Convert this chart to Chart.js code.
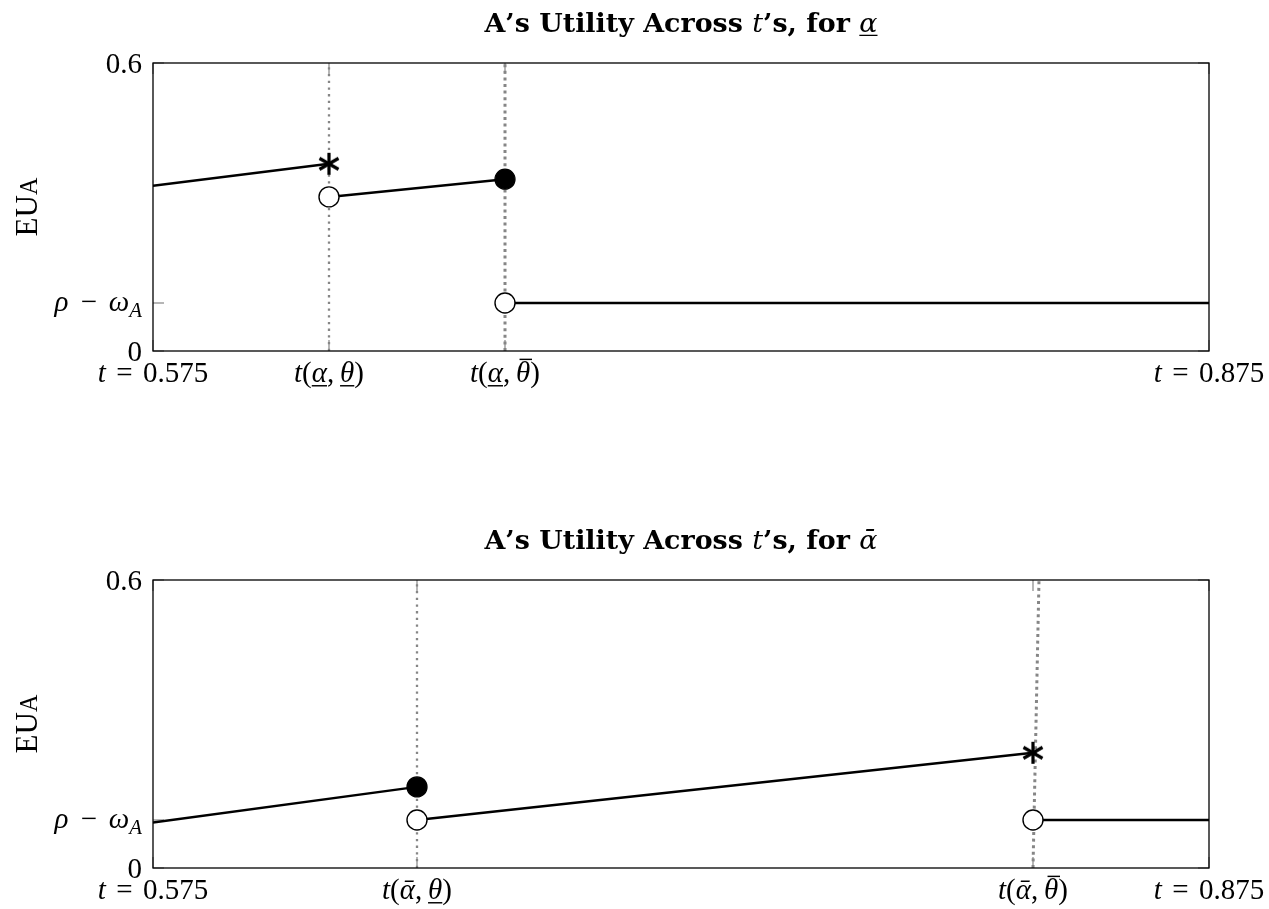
<!DOCTYPE html>
<html>
<head>
<meta charset="utf-8">
<script src="https://cdn.jsdelivr.net/npm/chart.js@4.4.1/dist/chart.umd.min.js"></script>
<style>
html,body{margin:0;padding:0;background:#fff;}
#wrap{position:relative;width:1269px;height:909px;}
canvas{position:absolute;left:0;}
</style>
</head>
<body>
<div id="wrap">
<canvas id="c1" width="1269" height="455" style="top:0"></canvas>
<canvas id="c2" width="1269" height="454" style="top:455px"></canvas>
</div>
<script>
// ---------- data ----------
const X_MIN = 0.575, X_MAX = 0.875, Y_MIN = 0, Y_MAX = 0.6;
const yTickVals = [0, 0.1, 0.6];
const yTickLabels = ['0', '$ρ~−~ω_A$', '0.6'];
const yAxisTitle = 'EU^A';

// top chart (α underline)
const topTitle = 'A’s Utility Across $t$’s, for $α̲$';
const topTickX = [0.575, 0.625, 0.675, 0.875];
const topTickLabels = ['$t$~=~0.575', '$t$($α̲$,\u2009$θ̲$)', '$t$($α̲$,\u2009$θ̄$)', '$t$~=~0.875'];
const topVLineBottomX = [0.625, 0.675];
const topVLineTopX = [0.625, 0.675];
const topLine1X = [0.575, 0.625], topLine1Y = [0.344, 0.390];
const topLine2X = [0.625, 0.675], topLine2Y = [0.321, 0.358];
const topLine3X = [0.675, 0.875], topLine3Y = [0.100, 0.100];
const topOpenX = [0.625, 0.675], topOpenY = [0.321, 0.100];
const topFilledX = [0.675], topFilledY = [0.358];
const topStarX = [0.625], topStarY = [0.390];

// bottom chart (α bar)
const botTitle = 'A’s Utility Across $t$’s, for $ᾱ$';
const botTickX = [0.575, 0.65, 0.825, 0.875];
const botTickLabels = ['$t$~=~0.575', '$t$($ᾱ$,\u2009$θ̲$)', '$t$($ᾱ$,\u2009$θ̄$)', '$t$~=~0.875'];
const botVLineBottomX = [0.65, 0.825];
const botVLineTopX = [0.65, 0.8267];
const botLine1X = [0.575, 0.65], botLine1Y = [0.095, 0.169];
const botLine2X = [0.65, 0.825], botLine2Y = [0.100, 0.240];
const botLine3X = [0.825, 0.875], botLine3Y = [0.100, 0.100];
const botOpenX = [0.65, 0.825], botOpenY = [0.100, 0.100];
const botFilledX = [0.65], botFilledY = [0.169];
const botStarX = [0.825], botStarY = [0.240];

// ---------- helpers ----------
const FONT = '"Liberation Serif", "Times New Roman", serif';
const TITLE_FONT = '"DejaVu Serif", "Liberation Serif", serif';
const GRAY = '#868686';

function zip(xs, ys) { return xs.map((x, i) => ({x: x, y: ys[i]})); }

// $..$ italic, _X subscript, ^X small capital, ~ wide space, U+0332 underline, U+0304 bar
function parseRich(s) {
  const out = []; let it = false; let sub = false; let sm = false;
  for (const c of [...s]) {
    if (c === '$') { it = !it; continue; }
    if (c === '_') { sub = true; continue; }
    if (c === '^') { sm = true; continue; }
    if (c === '\u0332') { out[out.length - 1].under = true; continue; }
    if (c === '\u0304') { out[out.length - 1].bar = true; continue; }
    out.push({c: c, it: it && c !== '~', sub: sub, sm: sm, sp: c === '~'});
    sub = false; sm = false;
  }
  return out;
}
function glyphFont(g, size, bold, fam) {
  const s = g.sub ? size * 0.72 : (g.sm ? size * 0.78 : size);
  return (g.it ? 'italic ' : '') + ((bold && !g.it) ? 'bold ' : '') + s.toFixed(1) + 'px ' + (fam || FONT);
}
function glyphW(ctx, g, size, bold, fam) {
  if (g.sp) return size * 0.36;
  ctx.font = glyphFont(g, size, bold, fam);
  return ctx.measureText(g.c).width;
}
function drawRich(ctx, str, x, y, size, align, bold, targetW, fam) {
  const glyphs = parseRich(str);
  let w = 0;
  for (const g of glyphs) w += glyphW(ctx, g, size, bold, fam);
  let sx = 1;
  if (targetW) { sx = targetW / w; }
  const tw = w * sx;
  let cx = align === 'center' ? x - tw / 2 : (align === 'right' ? x - tw : x);
  ctx.save();
  ctx.fillStyle = '#000'; ctx.strokeStyle = '#000';
  ctx.textAlign = 'left'; ctx.textBaseline = 'alphabetic';
  for (const g of glyphs) {
    const gw = glyphW(ctx, g, size, bold, fam) * sx;
    if (!g.sp) {
      ctx.font = glyphFont(g, size, bold, fam);
      const by = y + (g.sub ? size * 0.2 : 0);
      ctx.save();
      ctx.translate(cx, by);
      ctx.scale(sx, 1);
      ctx.fillText(g.c, 0, 0);
      ctx.restore();
      ctx.lineWidth = Math.max(1.2, size * 0.05);
      if (g.under) {
        ctx.beginPath(); ctx.moveTo(cx, by + size * 0.13); ctx.lineTo(cx + gw, by + size * 0.13); ctx.stroke();
      }
      if (g.bar) {
        const sh = g.it ? size * 0.08 : 0;
        ctx.beginPath(); ctx.moveTo(cx + sh + size * 0.04, by - size * 0.78); ctx.lineTo(cx + sh + gw - size * 0.02, by - size * 0.78); ctx.stroke();
      }
    }
    cx += gw;
  }
  ctx.restore();
}

// asterisk point style (six arms)
function makeAsterisk() {
  const c = document.createElement('canvas');
  c.width = 28; c.height = 28;
  const g = c.getContext('2d');
  g.strokeStyle = '#000'; g.lineWidth = 3.2; g.lineCap = 'butt';
  const r = 11;
  for (const a of [90, 30, 150]) {
    const rad = a * Math.PI / 180;
    g.beginPath();
    g.moveTo(14 - r * Math.cos(rad), 14 - r * Math.sin(rad));
    g.lineTo(14 + r * Math.cos(rad), 14 + r * Math.sin(rad));
    g.stroke();
  }
  return c;
}
const asterisk = makeAsterisk();

function framePlugin(cfg) {
  return {
    id: 'frame',
    beforeDatasetsDraw(chart) {
      const ctx = chart.ctx, a = chart.chartArea;
      const xs = chart.scales.x, ys = chart.scales.y;
      ctx.save();
      ctx.strokeStyle = GRAY; ctx.lineWidth = 1.2;
      for (const v of cfg.tickX) {
        const px = xs.getPixelForValue(v);
        ctx.beginPath(); ctx.moveTo(px, a.bottom); ctx.lineTo(px, a.bottom - 11); ctx.stroke();
        ctx.beginPath(); ctx.moveTo(px, a.top); ctx.lineTo(px, a.top + 11); ctx.stroke();
      }
      for (const v of yTickVals) {
        const py = ys.getPixelForValue(v);
        ctx.beginPath(); ctx.moveTo(a.left, py); ctx.lineTo(a.left + 11, py); ctx.stroke();
        ctx.beginPath(); ctx.moveTo(a.right, py); ctx.lineTo(a.right - 11, py); ctx.stroke();
      }
      ctx.restore();
    },
    afterDatasetsDraw(chart) {
      const ctx = chart.ctx, a = chart.chartArea;
      ctx.save();
      ctx.strokeStyle = '#000'; ctx.lineWidth = 1.3;
      ctx.strokeRect(a.left, a.top, a.right - a.left, a.bottom - a.top);
      ctx.restore();
    },
    afterDraw(chart) {
      const ctx = chart.ctx, a = chart.chartArea;
      const xs = chart.scales.x, ys = chart.scales.y;
      cfg.tickX.forEach((v, i) => {
        drawRich(ctx, cfg.tickLabels[i], xs.getPixelForValue(v), a.bottom + 31, 29, 'center', false);
      });
      yTickVals.forEach((v, i) => {
        const py = ys.getPixelForValue(v);
        drawRich(ctx, yTickLabels[i], a.left - 11, py + (i === 1 ? 8 : 10), 29, 'right', false);
      });
      ctx.save();
      ctx.translate(37, (a.top + a.bottom) / 2);
      ctx.rotate(-Math.PI / 2);
      drawRich(ctx, yAxisTitle, 0, 0, 31, 'center', false);
      ctx.restore();
      drawRich(ctx, cfg.title, (a.left + a.right) / 2, a.top - 31, 26, 'center', true, 393, TITLE_FONT);
    }
  };
}

function buildChart(id, cfg) {
  const lineDs = (xs, ys) => ({
    data: zip(xs, ys), showLine: true, borderColor: '#000', borderWidth: 2.5,
    pointRadius: 0, pointHoverRadius: 0, fill: false
  });
  const vDs = (i, w, dash) => ({
    data: [{x: cfg.vBottom[i], y: Y_MIN}, {x: cfg.vTop[i], y: Y_MAX}], showLine: true,
    borderColor: GRAY, borderWidth: w, borderDash: dash, pointRadius: 0, pointHoverRadius: 0
  });
  const datasets = [
    {data: zip(cfg.starX, cfg.starY), pointStyle: asterisk, pointRadius: 14, showLine: false},
    {data: zip(cfg.filledX, cfg.filledY), pointStyle: 'circle', pointRadius: 10,
     backgroundColor: '#000', borderColor: '#000', borderWidth: 1.3, showLine: false},
    {data: zip(cfg.openX, cfg.openY), pointStyle: 'circle', pointRadius: 10,
     backgroundColor: '#fff', borderColor: '#000', borderWidth: 1.4, showLine: false},
    lineDs(cfg.l1x, cfg.l1y),
    lineDs(cfg.l2x, cfg.l2y),
    lineDs(cfg.l3x, cfg.l3y),
    vDs(1, 3, [3, 3.6]),
    vDs(0, 2.3, [2.3, 4.4])
  ];
  return new Chart(document.getElementById(id), {
    type: 'scatter',
    data: {datasets: datasets},
    options: {
      responsive: false, animation: false,
      events: [],
      layout: {padding: {top: cfg.padTop, right: 60, left: 0, bottom: 0}},
      plugins: {legend: {display: false}, tooltip: {enabled: false}, title: {display: false}},
      scales: {
        x: {type: 'linear', min: X_MIN, max: X_MAX, grid: {display: false}, border: {display: false},
            ticks: {display: false}, afterFit: s => { s.height = cfg.xH; }},
        y: {type: 'linear', min: Y_MIN, max: Y_MAX, grid: {display: false}, border: {display: false},
            ticks: {display: false}, afterFit: s => { s.width = 153; }}
      }
    },
    plugins: [framePlugin(cfg)]
  });
}

buildChart('c1', {
  title: topTitle, tickX: topTickX, tickLabels: topTickLabels,
  vBottom: topVLineBottomX, vTop: topVLineTopX,
  l1x: topLine1X, l1y: topLine1Y, l2x: topLine2X, l2y: topLine2Y, l3x: topLine3X, l3y: topLine3Y,
  openX: topOpenX, openY: topOpenY, filledX: topFilledX, filledY: topFilledY,
  starX: topStarX, starY: topStarY, padTop: 63, xH: 104
});
buildChart('c2', {
  title: botTitle, tickX: botTickX, tickLabels: botTickLabels,
  vBottom: botVLineBottomX, vTop: botVLineTopX,
  l1x: botLine1X, l1y: botLine1Y, l2x: botLine2X, l2y: botLine2Y, l3x: botLine3X, l3y: botLine3Y,
  openX: botOpenX, openY: botOpenY, filledX: botFilledX, filledY: botFilledY,
  starX: botStarX, starY: botStarY, padTop: 125, xH: 41
});
</script>
</body>
</html>
